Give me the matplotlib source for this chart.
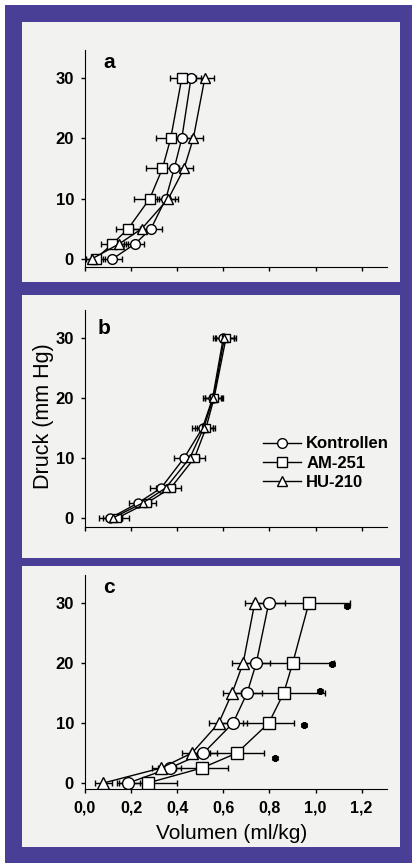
import numpy as np
import matplotlib.pyplot as plt
from matplotlib.patches import Rectangle
from matplotlib.lines import Line2D

plt.rcParams['font.family'] = ['Liberation Sans', 'DejaVu Sans']

# pressure steps (mm Hg)
druck = [0, 2.5, 5, 10, 15, 20, 30]

# panel a - volume (ml/kg) and SEM
a_kontrollen = [0.119, 0.217, 0.286, 0.351, 0.387, 0.420, 0.460]
a_am251 = [0.046, 0.119, 0.187, 0.281, 0.336, 0.372, 0.420]
a_hu210 = [0.029, 0.148, 0.246, 0.362, 0.430, 0.470, 0.520]
a_err_kontrollen = [0.04, 0.04, 0.046, 0.04, 0.04, 0.04, 0.045]
a_err_am251 = [0.04, 0.05, 0.054, 0.07, 0.07, 0.065, 0.05]
a_err_hu210 = [0.03, 0.04, 0.04, 0.04, 0.04, 0.04, 0.04]

# panel b
b_kontrollen = [0.110, 0.230, 0.330, 0.430, 0.510, 0.554, 0.600]
b_am251 = [0.140, 0.268, 0.372, 0.475, 0.525, 0.560, 0.612]
b_hu210 = [0.120, 0.250, 0.350, 0.455, 0.515, 0.557, 0.605]
b_err_kontrollen = [0.05, 0.04, 0.05, 0.045, 0.045, 0.04, 0.045]
b_err_am251 = [0.05, 0.04, 0.045, 0.045, 0.04, 0.04, 0.045]
b_err_hu210 = [0.04, 0.035, 0.04, 0.04, 0.04, 0.035, 0.04]

# panel c
c_kontrollen = [0.188, 0.367, 0.514, 0.642, 0.703, 0.743, 0.797]
c_am251 = [0.272, 0.507, 0.659, 0.797, 0.862, 0.901, 0.971]
c_hu210 = [0.080, 0.330, 0.464, 0.580, 0.638, 0.686, 0.736]
c_err_kontrollen = [0.05, 0.05, 0.06, 0.06, 0.065, 0.06, 0.07]
c_err_am251 = [0.126, 0.113, 0.116, 0.11, 0.18, 0.18, 0.177]
c_err_hu210 = [0.035, 0.04, 0.043, 0.04, 0.04, 0.048, 0.04]

# significance marks in panel c
ast_x = [0.823, 0.950, 1.020, 1.070, 1.135]
ast_y = [4.2, 9.6, 15.3, 19.9, 29.6]

labels = ['Kontrollen', 'AM-251', 'HU-210']
markers = ['o', 's', '^']
xticks = [0, 0.2, 0.4, 0.6, 0.8, 1.0, 1.2]
xticklabels = ['0,0', '0,2', '0,4', '0,6', '0,8', '1,0', '1,2']
yticks = [0, 10, 20, 30]

panels = [
    ('a', [a_kontrollen, a_am251, a_hu210], [a_err_kontrollen, a_err_am251, a_err_hu210]),
    ('b', [b_kontrollen, b_am251, b_hu210], [b_err_kontrollen, b_err_am251, b_err_hu210]),
    ('c', [c_kontrollen, c_am251, c_hu210], [c_err_kontrollen, c_err_am251, c_err_hu210]),
]

W, H = 412, 863
fig = plt.figure(figsize=(W / 100, H / 100), dpi=100)
fig.patch.set_facecolor('white')


def px_rect(x0, y0, x1, y1, color):
    # rectangle given in pixel coords from the top-left corner
    fig.patches.append(Rectangle((x0 / W, 1 - y1 / H), (x1 - x0) / W, (y1 - y0) / H,
                                 transform=fig.transFigure, facecolor=color,
                                 edgecolor='none', zorder=-10))


px_rect(5, 5, W, H, '#4a3f96')
px_rect(22, 22, 400, 282, '#f2f2f0')
px_rect(22, 295, 400, 558, '#f2f2f0')
px_rect(22, 566, 400, 847, '#f2f2f0')

# axes boxes: (left, top, right, bottom) in pixels
boxes = [(85, 50, 387, 267), (85, 310, 387, 527), (85, 575, 387, 789)]
ylims = [(-1.33, 34.6), (-1.49, 34.6), (-1.0, 34.7)]
letter_pos = [(109, 62), (104, 328), (109, 587)]
panel_ms = [[7, 6.5, 6.5], [6.5, 6, 6], [8.5, 8, 8]]

axes = []
for i, (letter, vols, errs) in enumerate(panels):
    l, t, r, b = boxes[i]
    ax = fig.add_axes([l / W, 1 - b / H, (r - l) / W, (b - t) / H])
    ax.set_facecolor('none')
    for v, e, m, ms in zip(vols, errs, markers, panel_ms[i]):
        ax.errorbar(v, druck, xerr=e, fmt='none', ecolor='black', elinewidth=1,
                    capsize=2, capthick=1, zorder=2)
        ax.plot(v, druck, color='black', lw=1, marker=m, ms=ms,
                mfc='white', mec='black', mew=1, zorder=3)
    ax.set_xlim(0, 1.31)
    ax.set_ylim(*ylims[i])
    ax.set_xticks(xticks)
    ax.set_yticks(yticks)
    ax.spines['top'].set_visible(False)
    ax.spines['right'].set_visible(False)
    ax.tick_params(direction='out', length=3, width=1, labelsize=12, pad=5)
    for lab in ax.get_yticklabels():
        lab.set_fontweight('bold')
    if letter == 'c':
        ax.set_xticklabels(xticklabels, fontweight='bold', fontsize=11.5)
        ax.plot(ast_x, ast_y, ls='none', marker=(6, 2, 0), ms=5, mew=1.8,
                color='black', clip_on=False)
    else:
        ax.set_xticklabels([])
    lx, ly = letter_pos[i]
    fig.text(lx / W, 1 - ly / H, letter, fontsize=15, fontweight='bold',
             ha='center', va='center')
    axes.append(ax)

handles = [Line2D([], [], color='black', lw=1, marker=m, ms=7, mfc='white',
                  mec='black', mew=1) for m in markers]
fig.legend(handles, labels, loc='center left', bbox_to_anchor=(263 / W, 1 - 463 / H),
           frameon=False, borderpad=0, borderaxespad=0, handlelength=2.3,
           handletextpad=0.3, labelspacing=0.25,
           prop={'size': 12, 'weight': 'bold'})

fig.text(44 / W, 1 - 416 / H, 'Druck (mm Hg)', rotation=90, fontsize=15.5,
         ha='center', va='center')
fig.text(232 / W, 1 - 833 / H, 'Volumen (ml/kg)', fontsize=15,
         ha='center', va='center')

fig.savefig('out.png', dpi=100)
